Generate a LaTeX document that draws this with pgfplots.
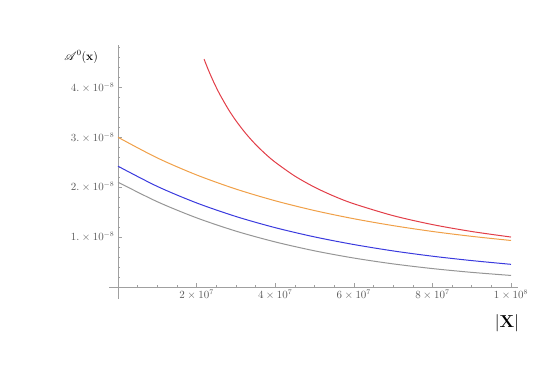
\documentclass[border=0pt]{standalone}
\usepackage{pgfplots}
\pgfplotsset{compat=1.18}
\usepackage{mathrsfs}
\definecolor{cred}{RGB}{226,62,72}
\definecolor{corange}{RGB}{240,160,72}
\definecolor{cblue}{RGB}{58,58,222}
\definecolor{cgray}{RGB}{150,150,150}
\definecolor{axgray}{RGB}{160,160,160}
\definecolor{lblgray}{RGB}{90,90,90}
\begin{document}
\begin{tikzpicture}
\useasboundingbox (0,0) rectangle (545pt,385pt);
\begin{axis}[
  at={(109pt,86pt)}, anchor=south west,
  scale only axis, width=409pt, height=254pt,
  axis lines=middle,
  axis line style={draw=axgray,-},
  xmin=-2.29e6, xmax=1.0178e8,
  ymin=-0.242e-8, ymax=4.85e-8,
  xtick={2e7,4e7,6e7,8e7,1e8},
  xticklabels={$2\times10^{7}$,$4\times10^{7}$,$6\times10^{7}$,$8\times10^{7}$,$1\times10^{8}$},
  ytick={1e-8,2e-8,3e-8,4e-8},
  yticklabels={$1.\times10^{-8}$,$2.\times10^{-8}$,$3.\times10^{-8}$,$4.\times10^{-8}$},
  minor xtick={5e6,1e7,1.5e7,2.5e7,3e7,3.5e7,4.5e7,5e7,5.5e7,6.5e7,7e7,7.5e7,8.5e7,9e7,9.5e7},
  minor ytick={0.2e-8,0.4e-8,0.6e-8,0.8e-8,1.2e-8,1.4e-8,1.6e-8,1.8e-8,2.2e-8,2.4e-8,2.6e-8,2.8e-8,3.2e-8,3.4e-8,3.6e-8,3.8e-8,4.2e-8,4.4e-8,4.6e-8,4.8e-8},
  tick align=inside,
  major tick length=4pt, minor tick length=2.2pt,
  every tick/.style={draw=axgray, line width=0.5pt},
  ticklabel style={font=\fontsize{10.5}{12}\selectfont, text=lblgray},
  scaled ticks=false,
  every axis y label/.style={at={(axis description cs:-0.068,0.953)}, anchor=center},
  every axis x label/.style={at={(axis description cs:0.973,-0.094)}, anchor=center},
  ylabel={\large$\mathscr{A}^{0}(\mathbf{x})$},
  xlabel={\LARGE$\left|\mathbf{X}\right|$},
  clip=true,
]
\addplot[corange, line width=1pt, smooth] coordinates {
(0,3.0e-8) (1e7,2.586e-8) (2e7,2.245e-8) (3e7,1.962e-8) (4e7,1.727e-8) (5e7,1.531e-8)
(6e7,1.367e-8) (7e7,1.229e-8) (8e7,1.112e-8) (9e7,1.014e-8) (1e8,0.931e-8)};
\addplot[cblue, line width=1pt, smooth] coordinates {
(0,2.42e-8) (1e7,2.015e-8) (2e7,1.684e-8) (3e7,1.412e-8) (4e7,1.188e-8) (5e7,1.003e-8)
(6e7,0.850e-8) (7e7,0.722e-8) (8e7,0.616e-8) (9e7,0.528e-8) (1e8,0.453e-8)};
\addplot[cgray, line width=1pt, smooth] coordinates {
(0,2.10e-8) (1e7,1.708e-8) (2e7,1.385e-8) (3e7,1.119e-8) (4e7,0.902e-8) (5e7,0.724e-8)
(6e7,0.579e-8) (7e7,0.462e-8) (8e7,0.368e-8) (9e7,0.292e-8) (1e8,0.230e-8)};
\addplot[cred, line width=1pt, smooth] coordinates {
(2.19e7,4.566e-8) (2.3e7,4.348e-8) (2.4e7,4.167e-8) (2.5e7,4.0e-8) (2.6e7,3.846e-8)
(2.8e7,3.571e-8) (3e7,3.333e-8) (3.25e7,3.077e-8) (3.5e7,2.857e-8) (3.75e7,2.667e-8)
(4e7,2.5e-8) (4.5e7,2.222e-8) (5e7,2.0e-8) (5.5e7,1.818e-8) (6e7,1.667e-8)
(7e7,1.429e-8) (8e7,1.25e-8) (9e7,1.111e-8) (1e8,1.0e-8)};
\end{axis}
\end{tikzpicture}
\end{document}
